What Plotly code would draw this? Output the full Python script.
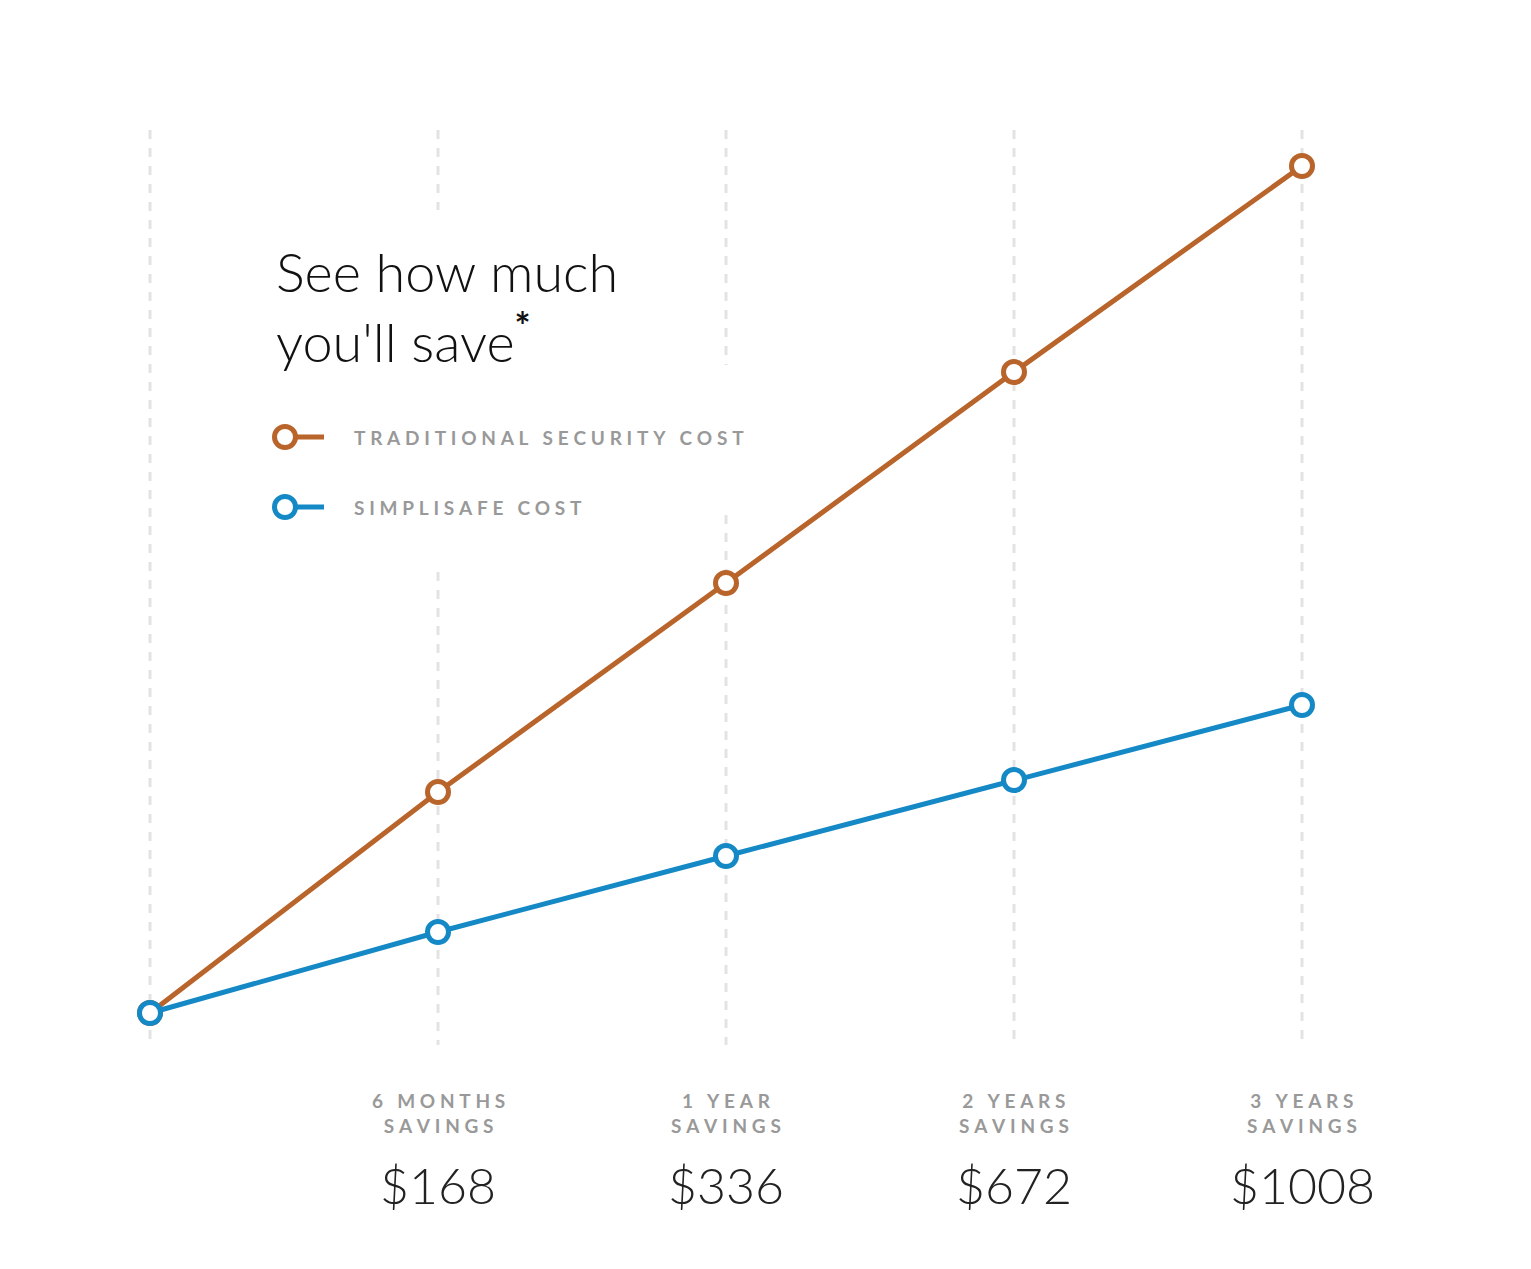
import plotly.graph_objects as go

x_idx = [0, 1, 2, 3, 4]
traditional = [0, 221, 430, 641, 847]
simplisafe = [0, 81, 157, 233, 308]
period_top = ["6 MONTHS", "1 YEAR", "2 YEARS", "3 YEARS"]
period_bottom = ["SAVINGS", "SAVINGS", "SAVINGS", "SAVINGS"]
savings = ["$168", "$336", "$672", "$1008"]

ORANGE = "#B8642A"
BLUE = "#1589C6"
GRAY = "#999999"

def spaced(s, sep="\u2009\u200a"):
    return sep.join(s)

W, H = 1531, 1269
OFF = 8
def px_x(p): return (p - 150) / 288
def px_y(p): return 1013 - p

fig = go.Figure()

segs = {0: [(130, 1045)], 1: [(130, 210), (572, 1045)], 2: [(130, 365), (515, 1045)], 3: [(130, 1045)], 4: [(130, 1045)]}
for i, ss in segs.items():
    for a, b in ss:
        fig.add_shape(type="line", x0=x_idx[i], x1=x_idx[i], y0=px_y(a), y1=px_y(b),
                      line=dict(color="#E3E3E3", width=3, dash="dash"), layer="below")

for ys, c in [(traditional, ORANGE), (simplisafe, BLUE)]:
    fig.add_trace(go.Scatter(x=x_idx, y=ys, mode="lines+markers",
                             line=dict(color=c, width=5),
                             marker=dict(size=21, color="white", line=dict(color=c, width=5)),
                             showlegend=False, hoverinfo="skip"))

for py, c, label in [(437, ORANGE, "TRADITIONAL SECURITY COST"), (507, BLUE, "SIMPLISAFE COST")]:
    fig.add_trace(go.Scatter(x=[px_x(285), px_x(324)], y=[px_y(py), px_y(py)], mode="lines",
                             line=dict(color=c, width=5), showlegend=False, hoverinfo="skip"))
    fig.add_trace(go.Scatter(x=[px_x(285)], y=[px_y(py)], mode="markers",
                             marker=dict(size=21, color="white", line=dict(color=c, width=5)),
                             showlegend=False, hoverinfo="skip"))
    fig.add_annotation(x=px_x(352), y=px_y(py), text="<b>" + spaced(label, "\u2009\u2009") + "</b>", showarrow=False,
                       xanchor="left", yanchor="middle", font=dict(family="Lato", size=19, color=GRAY))

fig.add_annotation(x=px_x(274), y=px_y(306), text="See how much<br>you'll save<b><sup>*</sup></b>", showarrow=False,
                   xanchor="left", yanchor="middle", align="left",
                   font=dict(family="Lato", size=54, color="#111111", weight=300))

for i in range(4):
    fig.add_annotation(x=x_idx[i + 1], y=px_y(1113),
                       text="<b>" + spaced(period_top[i], "\u2009\u2009") + "<br>" + spaced(period_bottom[i], "\u2009\u2009") + "</b>",
                       showarrow=False, xanchor="center", yanchor="middle", align="center",
                       font=dict(family="Lato", size=19, color=GRAY))
    fig.add_annotation(x=x_idx[i + 1], y=px_y(1185), text=savings[i], showarrow=False,
                       xanchor="center", yanchor="middle",
                       font=dict(family="Lato", size=50, color="#222222", weight=300))

fig.update_layout(width=W, height=H, autosize=False, margin=dict(l=0, r=0, t=0, b=0),
                  paper_bgcolor="white", plot_bgcolor="white",
                  xaxis=dict(range=[-(150 - OFF) / 288, (W - 150 + OFF) / 288], visible=False, fixedrange=True),
                  yaxis=dict(range=[1013 - OFF - H, 1013 - OFF], visible=False, fixedrange=True))
fig.write_html("out.html")
